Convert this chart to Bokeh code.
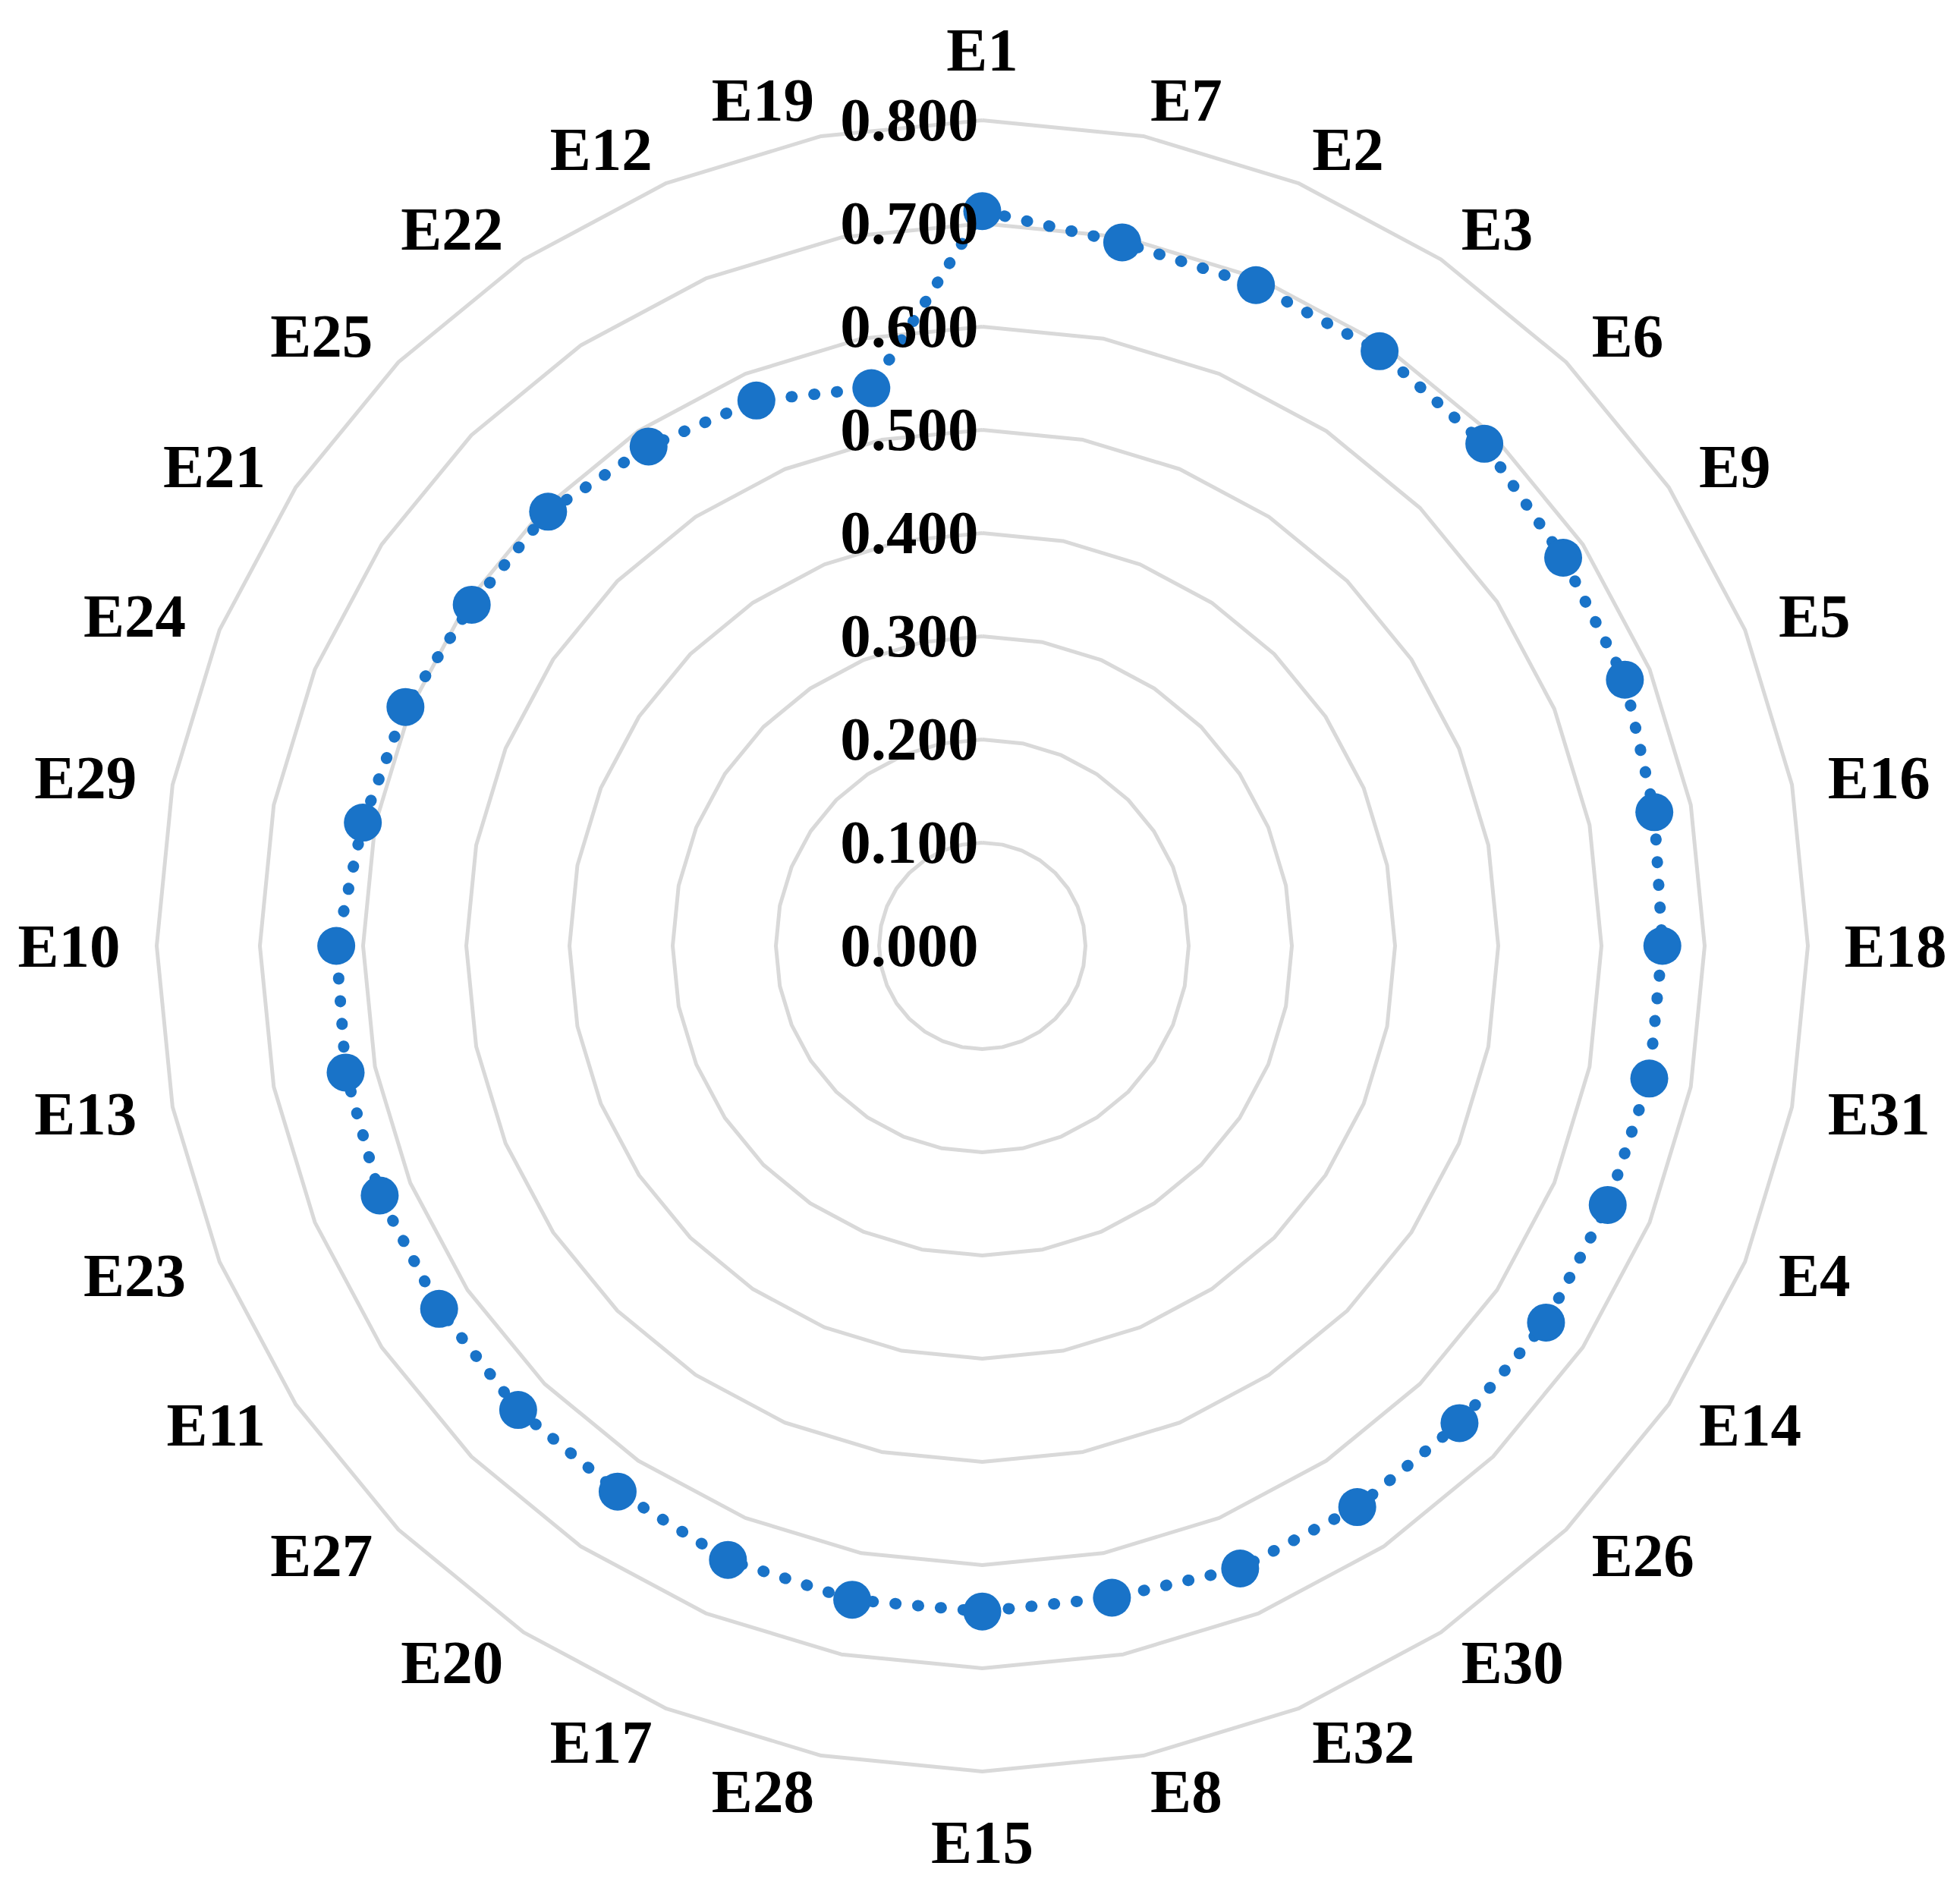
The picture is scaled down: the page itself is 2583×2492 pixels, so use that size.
import numpy as np
from bokeh.plotting import figure
from bokeh.models import ColumnDataSource, Range1d
from bokeh.core.properties import value
from bokeh.embed import file_html
from bokeh.resources import INLINE

categories = ["E1", "E7", "E2", "E3", "E6", "E9", "E5", "E16", "E18", "E31", "E4",
              "E14", "E26", "E30", "E32", "E8", "E15", "E28", "E17", "E20", "E27",
              "E11", "E23", "E13", "E10", "E29", "E24", "E21", "E25", "E22", "E12", "E19"]
values = [0.712, 0.695, 0.693, 0.693, 0.688, 0.677, 0.674, 0.664, 0.659, 0.659, 0.656,
          0.657, 0.654, 0.654, 0.653, 0.644, 0.645, 0.646, 0.644, 0.636, 0.636,
          0.633, 0.632, 0.629, 0.626, 0.612, 0.605, 0.595, 0.595, 0.582, 0.572, 0.551]
ring_values = [0.1, 0.2, 0.3, 0.4, 0.5, 0.6, 0.7, 0.8]
tick_values = [0.0, 0.1, 0.2, 0.3, 0.4, 0.5, 0.6, 0.7, 0.8]
tick_labels = ["0.000", "0.100", "0.200", "0.300", "0.400", "0.500", "0.600", "0.700", "0.800"]

W, H = 2580, 2480
cx, cy = 1294, 1246          # centre in plot pixels
rmax_px = 1088.0             # pixel radius of 0.8
k = rmax_px / 0.8            # pixels per unit

p = figure(width=W, height=H, output_backend="svg", toolbar_location=None,
           x_range=Range1d(-cx / k, (W - cx) / k), y_range=Range1d(-(H - cy) / k, cy / k),
           min_border=0, outline_line_color=None)
p.axis.visible = False
p.grid.visible = False
p.background_fill_color = "white"
p.border_fill_color = "white"

n = len(categories)
ang = np.arange(n) * 2 * np.pi / n
sx, sy = np.sin(ang), np.cos(ang)

# grid rings (32-gons)
xs = [list(np.append(r * sx, r * sx[0])) for r in ring_values]
ys = [list(np.append(r * sy, r * sy[0])) for r in ring_values]
p.multi_line(xs, ys, line_color="#d9d9d9", line_width=5)

# data
v = np.array(values)
px, py = v * sx, v * sy
blue = "#1973c8"
p.line(list(np.append(px, px[0])), list(np.append(py, py[0])), line_color=blue,
       line_width=15, line_dash="1 29", line_cap="round")
p.scatter(px, py, size=50, fill_color=blue, line_color=blue, line_width=0)

# radial tick labels
p.text(x=[-5 / k] * len(tick_values), y=tick_values, text=tick_labels,
       text_font=value("Liberation Serif"), text_font_style="bold",
       text_font_size="81px", text_color="black", text_align="right",
       text_baseline="middle")

# category labels
rl = 1136 / k
aligns, bases = [], []
for s, c in zip(sx, sy):
    aligns.append("left" if s > 1e-6 else ("right" if s < -1e-6 else "center"))
    if abs(s) < 1e-6:
        bases.append("bottom" if c > 0 else "top")
    else:
        bases.append("middle")
src = ColumnDataSource(dict(x=rl * sx, y=rl * sy, t=categories, a=aligns, b=bases))
p.text(x="x", y="y", text="t", source=src, text_align="a", text_baseline="b",
       text_font=value("Liberation Serif"), text_font_style="bold",
       text_font_size="81px", text_color="black")

open("out.html", "w").write(file_html(p, INLINE))
